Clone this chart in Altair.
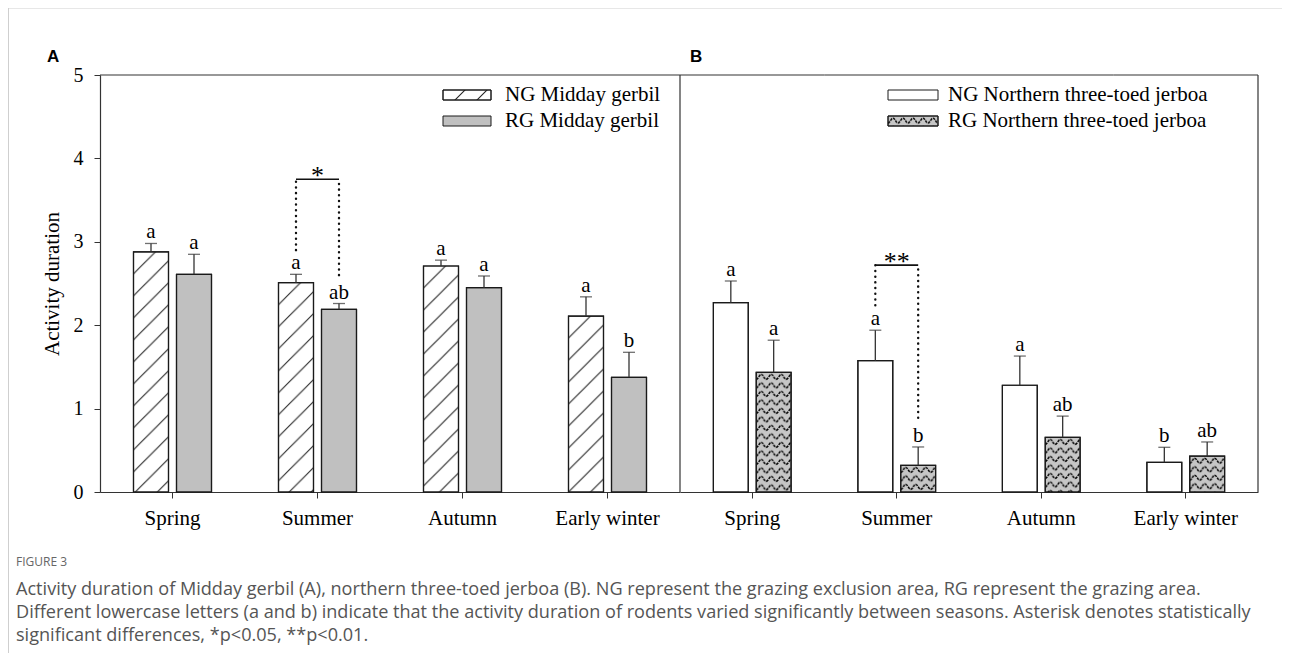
import base64
import altair as alt
import pandas as pd

# ---------------- data ----------------
seasons = ["Spring", "Summer", "Autumn", "Early winter"]
groups = ["NG", "RG"]

gerbil_ng = [2.88, 2.51, 2.71, 2.11]
gerbil_ng_se = [0.10, 0.10, 0.07, 0.23]
gerbil_ng_letters = ["a", "a", "a", "a"]
gerbil_rg = [2.61, 2.19, 2.45, 1.375]
gerbil_rg_se = [0.24, 0.07, 0.14, 0.30]
gerbil_rg_letters = ["a", "ab", "a", "b"]

jerboa_ng = [2.27, 1.575, 1.28, 0.356]
jerboa_ng_se = [0.26, 0.365, 0.35, 0.18]
jerboa_ng_letters = ["a", "a", "a", "b"]
jerboa_rg = [1.435, 0.32, 0.655, 0.43]
jerboa_rg_se = [0.385, 0.22, 0.255, 0.17]
jerboa_rg_letters = ["a", "b", "ab", "ab"]

gerbil_sig_season = "Summer"
gerbil_sig_label = "*"
gerbil_sig_level = 3.75
gerbil_sig_from = [2.90, 2.60]

jerboa_sig_season = "Summer"
jerboa_sig_label = "**"
jerboa_sig_level = 2.72
jerboa_sig_from = [2.24, 0.89]

y_ticks = [0, 1, 2, 3, 4, 5]
legend_a = ["NG Midday gerbil", "RG Midday gerbil"]
legend_b = ["NG Northern three-toed jerboa", "RG Northern three-toed jerboa"]
panel_labels = ["A", "B"]
y_title = "Activity duration"
caption_title = "FIGURE 3"
caption_lines = [
    "Activity duration of Midday gerbil (A), northern three-toed jerboa (B). NG represent the grazing exclusion area, RG represent the grazing area.",
    "Different lowercase letters (a and b) indicate that the activity duration of rodents varied significantly between seasons. Asterisk denotes statistically",
    "significant differences, *p<0.05, **p<0.01.",
]

# ---------------- layout / style ----------------
W, H = 1274, 645
XA = [92, 672]
XB = [672, 1250]
YR = [484, 67]
SERIF = "Liberation Serif"
INK = "#1a1a1a"


def svg_uri(svg):
    return "data:image/svg+xml;base64," + base64.b64encode(svg.encode()).decode()


hatch_uri = svg_uri(
    '<svg xmlns="http://www.w3.org/2000/svg" width="100%" height="100%">'
    '<defs><pattern id="p" patternUnits="userSpaceOnUse" width="22" height="22">'
    '<path d="M-11,11 L11,-11 M0,22 L22,0 M11,33 L33,11" stroke="#222" stroke-width="1.1" fill="none"/>'
    '</pattern></defs><rect width="100%" height="100%" fill="url(#p)"/></svg>'
)
wave_uri = svg_uri(
    '<svg xmlns="http://www.w3.org/2000/svg" width="100%" height="100%">'
    '<defs><pattern id="w" patternUnits="userSpaceOnUse" width="10" height="8.5">'
    '<path d="M0,7 C2,7 3,2.2 5,2.2 C7,2.2 8,7 10,7" stroke="#000" stroke-width="1.5" '
    'stroke-dasharray="2.6,0.9" fill="none"/>'
    '</pattern></defs><rect width="100%" height="100%" fill="url(#w)"/></svg>'
)

Y_AXIS = alt.Axis(
    orient="left", offset=-XA[0], values=y_ticks, format="d",
    labelFont=SERIF, labelFontSize=20, labelColor="#000", labelPadding=11,
    tickSize=6, tickColor="#333", tickWidth=1, domainColor="#333", domainWidth=1.2,
    titleFont=SERIF, titleFontSize=21, titleFontWeight="normal", titleColor="#000",
    titlePadding=11, grid=False,
)


def make_y(field):
    return alt.Y(f"{field}:Q", title=y_title,
                 scale=alt.Scale(domain=[0, 5], range=YR, nice=False, zero=True), axis=Y_AXIS)


def panel(ng, ng_se, ng_let, rg, rg_se, rg_let, sig_season, sig_label, sig_level, sig_from,
          xrange, fills, uris):
    rows = []
    for i, s in enumerate(seasons):
        rows.append({"season": s, "group": "NG", "value": ng[i], "top": ng[i] + ng_se[i], "letter": ng_let[i]})
        rows.append({"season": s, "group": "RG", "value": rg[i], "top": rg[i] + rg_se[i], "letter": rg_let[i]})
    df = pd.DataFrame(rows)
    base = alt.Chart(df)

    def make_x(band=None):
        kw = {}
        if band is not None:
            kw["bandPosition"] = band
        return alt.X(
            "season:N", sort=seasons, title=None,
            scale=alt.Scale(domain=seasons, range=xrange, paddingInner=0, paddingOuter=0),
            axis=alt.Axis(orient="bottom", offset=-(H - YR[0]), labelAngle=0, labelFont=SERIF,
                          labelFontSize=21, labelColor="#000", tickSize=6, tickColor="#333",
                          tickWidth=1, domainColor="#333", domainWidth=1.2, labelPadding=9, grid=False),
            **kw,
        )

    x = make_x()
    xo = alt.XOffset("group:N", sort=groups,
                     scale=alt.Scale(domain=groups, paddingInner=8 / 43, paddingOuter=0.779))
    color = alt.Color("group:N", scale=alt.Scale(domain=groups, range=fills), legend=None)

    layers = []
    layers.append(base.mark_bar(stroke=INK, strokeWidth=1.2).encode(
        x=x, xOffset=xo, y=make_y("value"), color=color))
    for g, uri in zip(groups, uris):
        if uri:
            layers.append(base.transform_filter(alt.datum.group == g).mark_image(aspect=False).encode(
                x=x, xOffset=xo, y=make_y("value"), y2=alt.Y2(datum=0), url=alt.value(uri)))
    layers.append(base.mark_bar(fillOpacity=0, stroke=INK, strokeWidth=1.2).encode(
        x=x, xOffset=xo, y=make_y("value")))
    # error bars
    layers.append(base.mark_rule(color="#333", strokeWidth=1.3).encode(
        x=x, xOffset=xo, y=make_y("value"), y2="top:Q"))
    layers.append(base.mark_tick(color="#333", thickness=1.3, size=12, orient="horizontal").encode(
        x=x, xOffset=xo, y=make_y("top")))
    # letters
    layers.append(base.mark_text(font=SERIF, fontSize=21, baseline="alphabetic", dy=-5, color="#000").encode(
        x=x, xOffset=xo, y=make_y("top"), text="letter:N"))

    # significance bracket
    sig_df = pd.DataFrame({"season": [sig_season, sig_season], "group": groups,
                           "start": sig_from, "level": [sig_level, sig_level]})
    sig = alt.Chart(sig_df)
    layers.append(sig.mark_rule(strokeDash=[0.1, 5.6], strokeCap="round", strokeWidth=2.4, color="#111").encode(
        x=x, xOffset=xo, y=make_y("start"), y2="level:Q"))
    layers.append(sig.mark_line(color="#111", strokeWidth=1.6).encode(
        x=x, xOffset=xo, y=make_y("level")))
    star_df = pd.DataFrame({"season": [sig_season], "level": [sig_level], "label": [sig_label]})
    layers.append(alt.Chart(star_df).mark_text(font=SERIF, fontSize=26, baseline="alphabetic", dy=5,
                                                color="#000").encode(
        x=x, y=make_y("level"), text="label:N"))

    # frame: top line and right line of panel
    frame_df = pd.DataFrame({"season": seasons, "lo": [0] * 4, "hi": [5] * 4})
    layers.append(alt.Chart(frame_df).mark_bar(fillOpacity=0, stroke="#333", strokeWidth=1.2).encode(
        x=x, y=make_y("hi"), y2="hi:Q"))
    layers.append(alt.Chart(frame_df).transform_filter(alt.datum.season == seasons[-1]).mark_rule(
        color="#333", strokeWidth=1.2).encode(
        x=make_x(1), y=make_y("lo"), y2="hi:Q"))

    return alt.layer(*layers)


panel_a = panel(gerbil_ng, gerbil_ng_se, gerbil_ng_letters, gerbil_rg, gerbil_rg_se, gerbil_rg_letters,
                gerbil_sig_season, gerbil_sig_label, gerbil_sig_level, gerbil_sig_from,
                XA, ["#ffffff", "#c0c0c0"], [hatch_uri, None])
panel_b = panel(jerboa_ng, jerboa_ng_se, jerboa_ng_letters, jerboa_rg, jerboa_rg_se, jerboa_rg_letters,
                jerboa_sig_season, jerboa_sig_label, jerboa_sig_level, jerboa_sig_from,
                XB, ["#ffffff", "#c6c6c6"], [None, wave_uri])

# ---------------- decorations (legends, labels, caption, card) ----------------
one = pd.DataFrame({"k": [0]})
deco = []

# card border (top & left)
deco.append(alt.Chart(one).mark_rule(color="#cfcfcf", strokeWidth=1).encode(
    x=alt.value(0), x2=alt.value(W), y=alt.value(0)))
deco.append(alt.Chart(one).mark_rule(color="#cfcfcf", strokeWidth=1).encode(
    x=alt.value(0.5), y=alt.value(0), y2=alt.value(H)))

# panel letters
for lab, px in zip(panel_labels, [39, 682]):
    deco.append(alt.Chart(pd.DataFrame({"t": [lab]})).mark_text(
        font="Liberation Sans", fontWeight="bold", fontSize=17, align="left", baseline="alphabetic",
        color="#000").encode(x=alt.value(px), y=alt.value(54), text="t:N"))

# legends
legend_specs = [
    (legend_a, [("#ffffff", hatch_uri), ("#c0c0c0", None)], 435, 483, 497),
    (legend_b, [("#ffffff", None), ("#c6c6c6", wave_uri)], 880, 930, 940),
]
row_tops = [82, 108]
for labels, styles, sx0, sx1, tx in legend_specs:
    for lab, (fill, uri), y0 in zip(labels, styles, row_tops):
        deco.append(alt.Chart(one).mark_rect(fill=fill, stroke=INK, strokeWidth=1).encode(
            x=alt.value(sx0), x2=alt.value(sx1), y=alt.value(y0), y2=alt.value(y0 + 10)))
        if uri:
            deco.append(alt.Chart(one).mark_image(aspect=False).encode(
                x=alt.value(sx0), x2=alt.value(sx1), y=alt.value(y0), y2=alt.value(y0 + 10),
                url=alt.value(uri)))
            deco.append(alt.Chart(one).mark_rect(fillOpacity=0, stroke=INK, strokeWidth=1).encode(
                x=alt.value(sx0), x2=alt.value(sx1), y=alt.value(y0), y2=alt.value(y0 + 10)))
        deco.append(alt.Chart(pd.DataFrame({"t": [lab]})).mark_text(
            font=SERIF, fontSize=21, align="left", baseline="middle", color="#000").encode(
            x=alt.value(tx), y=alt.value(y0 + 5), text="t:N"))

# caption
deco.append(alt.Chart(pd.DataFrame({"t": [caption_title]})).mark_text(
    font="Open Sans", fontSize=12, align="left", baseline="alphabetic", color="#666").encode(
    x=alt.value(8), y=alt.value(558), text="t:N"))
for i, line in enumerate(caption_lines):
    deco.append(alt.Chart(pd.DataFrame({"t": [line]})).mark_text(
        font="Open Sans", fontSize=18.1, align="left", baseline="alphabetic", color="#555").encode(
        x=alt.value(8), y=alt.value(587 + 23 * i), text="t:N"))

chart = (
    alt.layer(panel_a, panel_b, *deco)
    .resolve_scale(x="independent", xOffset="independent", color="independent")
    .properties(width=W, height=H, padding=0, autosize=alt.AutoSizeParams(type="none"))
    .configure_view(strokeWidth=0)
)

chart.save("out.html", embed_options={"renderer": "svg", "actions": False})
